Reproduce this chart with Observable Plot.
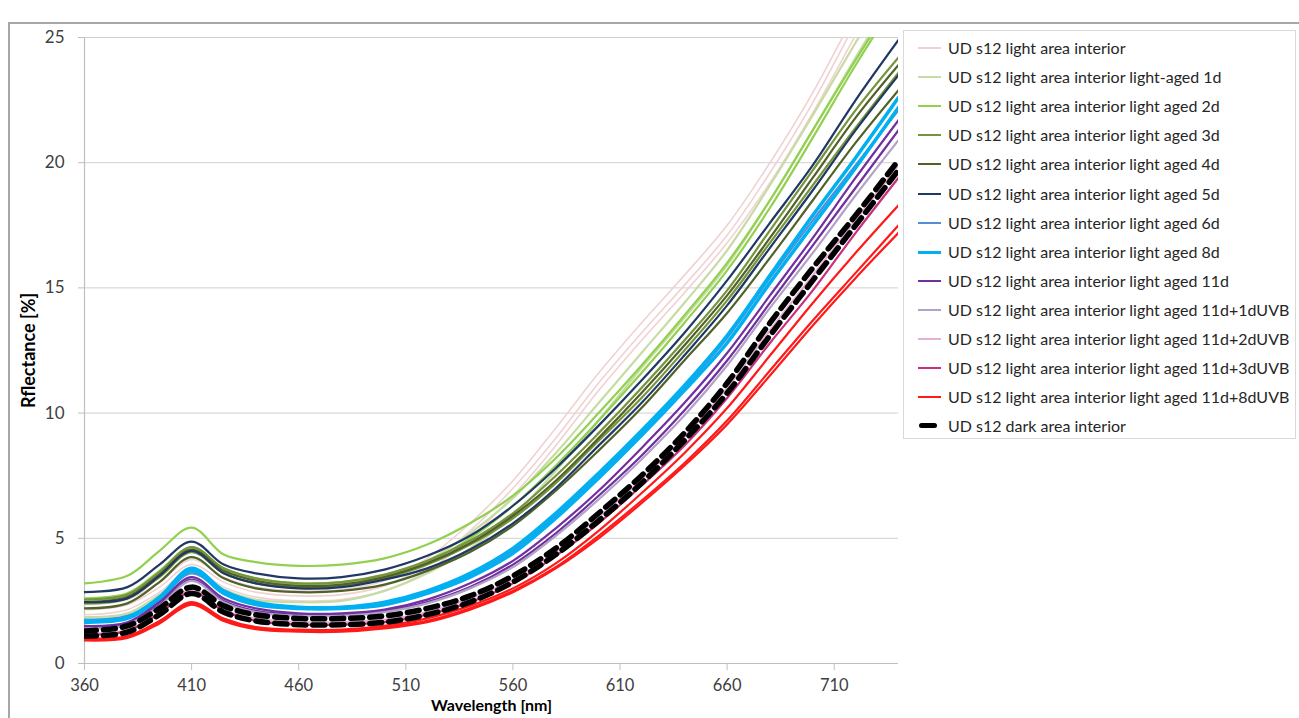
<!DOCTYPE html>
<html>
<head>
<meta charset="utf-8">
<script src="https://cdn.jsdelivr.net/npm/d3@7"></script>
<script src="https://cdn.jsdelivr.net/npm/@observablehq/plot@0.6"></script>
<style>
  html, body { margin: 0; padding: 0; background: #fff; overflow: hidden; }
  #wrap { position: relative; width: 1299px; height: 718px; overflow: hidden; font-family: Lato, "Open Sans", sans-serif; }
  #frame { position: absolute; left: 8px; top: 22px; width: 1400px; height: 800px; border-top: 2px solid #a6a6a6; border-left: 2px solid #a6a6a6; }
  #chart { position: absolute; left: 0; top: 0; }
  #legend { position: absolute; left: 903px; top: 30px; width: 393px; height: 409px; border: 1px solid #d9d9d9; background: #fff; box-sizing: border-box; }
  .item { position: absolute; left: 0; height: 20px; width: 390px; }
  .sw { position: absolute; left: 14px; top: 9px; width: 23px; height: 0; }
  .lab { position: absolute; left: 44px; top: 0; font-size: 16px; line-height: 20px; color: #262626; white-space: nowrap; }
</style>
</head>
<body>
<div id="wrap">
  <div id="frame"></div>
  <div id="chart"></div>
  <div id="legend"></div>
</div>
<script>
// ---- data ----
const wavelengths = [360, 380, 395, 410, 425, 440, 460, 480, 500, 520, 540, 560, 580, 600, 620, 640, 660, 680, 700, 720, 740];
const xTicks = [360, 410, 460, 510, 560, 610, 660, 710];
const yTicks = [0, 5, 10, 15, 20, 25];

const seriesNames = [
  "UD s12 light area interior",
  "UD s12 light area interior light-aged 1d",
  "UD s12 light area interior light aged 2d",
  "UD s12 light area interior light aged 3d",
  "UD s12 light area interior light aged 4d",
  "UD s12 light area interior light aged 5d",
  "UD s12 light area interior light aged 6d",
  "UD s12 light area interior light aged 8d",
  "UD s12 light area interior light aged 11d",
  "UD s12 light area interior light aged 11d+1dUVB",
  "UD s12 light area interior light aged 11d+2dUVB",
  "UD s12 light area interior light aged 11d+3dUVB",
  "UD s12 light area interior light aged 11d+8dUVB",
  "UD s12 dark area interior"
];
const seriesColors = ["#efd2d1", "#c6dca4", "#92d050", "#77933c", "#4f6228", "#1f3864", "#558ed5", "#00b0f0", "#7030a0", "#b3a2c7", "#e6b0d6", "#c8307f", "#ff1a1a", "#000000"];

// reflectance [%] per measurement, at the wavelengths above
const light_a  = [2.35, 2.55, 3.25, 4.15, 3.45, 3.05, 2.9, 2.95, 3.3, 4.2, 5.6, 7.3, 9.4, 11.6, 13.6, 15.5, 17.5, 20.0, 22.8, 26.0, 29.2];
const light_b  = [2.15, 2.35, 3.05, 3.95, 3.25, 2.85, 2.7, 2.75, 3.1, 3.95, 5.3, 7.0, 9.0, 11.2, 13.2, 15.1, 17.1, 19.6, 22.4, 25.6, 28.8];
const light_c  = [1.95, 2.15, 2.85, 3.75, 3.05, 2.65, 2.5, 2.55, 2.9, 3.7, 5.0, 6.7, 8.7, 10.9, 12.9, 14.8, 16.8, 19.2, 22.0, 25.1, 28.2];
const aged1_a  = [2.5, 2.7, 3.6, 4.6, 3.75, 3.3, 3.15, 3.2, 3.45, 4.1, 5.2, 6.6, 8.4, 10.4, 12.4, 14.4, 16.5, 19.1, 21.9, 24.8, 27.6];
const aged1_b  = [1.85, 2.0, 2.75, 3.65, 2.95, 2.55, 2.45, 2.5, 2.9, 3.6, 4.6, 5.9, 7.7, 9.7, 11.8, 13.8, 15.9, 18.5, 21.3, 24.2, 27.0];
const aged2_a  = [3.2, 3.5, 4.5, 5.43, 4.35, 4.05, 3.9, 3.95, 4.2, 4.75, 5.6, 6.7, 8.2, 10.0, 11.9, 13.9, 16.0, 18.5, 21.3, 24.1, 26.8];
const aged2_b  = [2.6, 2.8, 3.7, 4.65, 3.8, 3.4, 3.2, 3.25, 3.5, 4.05, 5.0, 6.3, 7.9, 9.7, 11.6, 13.6, 15.7, 18.2, 21.0, 23.9, 26.6];
const aged3_a  = [2.55, 2.75, 3.65, 4.65, 3.8, 3.4, 3.2, 3.25, 3.55, 4.1, 4.9, 6.0, 7.5, 9.2, 11.0, 12.9, 14.9, 17.3, 19.7, 22.1, 24.2];
const aged3_b  = [2.4, 2.6, 3.45, 4.45, 3.6, 3.2, 3.05, 3.1, 3.4, 3.95, 4.75, 5.8, 7.2, 8.9, 10.6, 12.5, 14.5, 16.8, 19.1, 21.4, 23.6];
const aged4_a  = [2.45, 2.65, 3.55, 4.55, 3.7, 3.3, 3.1, 3.15, 3.45, 4.0, 4.8, 5.9, 7.3, 9.0, 10.8, 12.7, 14.7, 17.0, 19.4, 21.8, 23.9];
const aged4_b  = [2.2, 2.4, 3.25, 4.25, 3.4, 3.0, 2.85, 2.9, 3.15, 3.7, 4.45, 5.5, 6.9, 8.5, 10.2, 12.1, 14.0, 16.2, 18.5, 20.8, 22.9];
const aged5_a  = [2.85, 3.05, 3.95, 4.87, 3.95, 3.6, 3.4, 3.45, 3.75, 4.3, 5.1, 6.3, 7.8, 9.5, 11.3, 13.2, 15.3, 17.6, 19.9, 22.5, 24.9];
const aged5_b  = [2.45, 2.6, 3.5, 4.5, 3.6, 3.2, 3.0, 3.05, 3.35, 3.8, 4.55, 5.6, 7.0, 8.7, 10.4, 12.3, 14.3, 16.6, 18.9, 21.3, 23.5];
const aged6_a  = [1.75, 1.9, 2.6, 3.6, 2.85, 2.4, 2.25, 2.25, 2.4, 2.8, 3.5, 4.5, 5.9, 7.5, 9.2, 11.0, 13.0, 15.4, 17.7, 19.9, 22.1];
const aged8_a  = [1.7, 1.85, 2.65, 3.8, 2.9, 2.45, 2.25, 2.25, 2.45, 2.9, 3.6, 4.6, 6.0, 7.6, 9.3, 11.1, 13.1, 15.5, 17.9, 20.2, 22.6];
const aged8_b  = [1.65, 1.8, 2.55, 3.7, 2.8, 2.35, 2.2, 2.2, 2.35, 2.8, 3.45, 4.4, 5.8, 7.4, 9.1, 10.9, 12.8, 15.2, 17.5, 19.8, 22.2];
const aged11_a = [1.5, 1.65, 2.45, 3.45, 2.6, 2.2, 2.0, 2.0, 2.15, 2.55, 3.2, 4.1, 5.4, 6.9, 8.6, 10.4, 12.4, 14.7, 17.0, 19.4, 21.7];
const aged11_b = [1.45, 1.6, 2.35, 3.35, 2.5, 2.1, 1.95, 1.95, 2.1, 2.45, 3.05, 3.95, 5.2, 6.7, 8.3, 10.1, 12.1, 14.4, 16.7, 19.0, 21.3];
const uvb1_a   = [1.4, 1.55, 2.3, 3.3, 2.45, 2.05, 1.9, 1.9, 2.05, 2.4, 3.0, 3.85, 5.1, 6.55, 8.15, 9.9, 11.9, 14.2, 16.4, 18.7, 20.9];
const uvb2_a   = [1.2, 1.35, 2.05, 2.95, 2.15, 1.8, 1.65, 1.65, 1.75, 2.05, 2.6, 3.35, 4.45, 5.85, 7.35, 9.05, 11.0, 13.3, 15.5, 17.7, 19.9];
const uvb3_a   = [1.15, 1.3, 2.0, 2.85, 2.1, 1.7, 1.55, 1.55, 1.65, 1.95, 2.45, 3.2, 4.3, 5.6, 7.1, 8.7, 10.6, 12.8, 14.9, 17.2, 19.4];
const uvb8_a   = [1.0, 1.1, 1.7, 2.45, 1.8, 1.45, 1.35, 1.35, 1.5, 1.8, 2.3, 3.0, 4.0, 5.3, 6.8, 8.4, 10.2, 12.3, 14.4, 16.4, 18.3];
const uvb8_b   = [0.95, 1.05, 1.65, 2.4, 1.75, 1.4, 1.3, 1.3, 1.45, 1.7, 2.2, 2.9, 3.85, 5.1, 6.5, 8.0, 9.7, 11.7, 13.7, 15.6, 17.5];
const uvb8_c   = [0.92, 1.02, 1.6, 2.35, 1.7, 1.37, 1.27, 1.27, 1.4, 1.65, 2.15, 2.85, 3.8, 5.0, 6.4, 7.9, 9.55, 11.5, 13.5, 15.4, 17.2];
const dark_a   = [1.3, 1.5, 2.2, 3.05, 2.3, 1.95, 1.8, 1.8, 1.9, 2.2, 2.7, 3.5, 4.6, 6.0, 7.5, 9.2, 11.2, 13.6, 15.8, 17.9, 20.1];
const dark_b   = [1.1, 1.25, 1.95, 2.8, 2.05, 1.7, 1.55, 1.55, 1.65, 1.95, 2.45, 3.25, 4.35, 5.7, 7.2, 8.9, 10.8, 13.1, 15.3, 17.5, 19.7];

// which series each measurement belongs to (drawing order = legend order)
const measurements = [
  [0, light_a], [0, light_b], [0, light_c],
  [1, aged1_a], [1, aged1_b],
  [2, aged2_a], [2, aged2_b],
  [3, aged3_a], [3, aged3_b],
  [4, aged4_a], [4, aged4_b],
  [5, aged5_a], [5, aged5_b],
  [6, aged6_a],
  [7, aged8_a], [7, aged8_b],
  [8, aged11_a], [8, aged11_b],
  [9, uvb1_a],
  [10, uvb2_a],
  [11, uvb3_a],
  [12, uvb8_a], [12, uvb8_b], [12, uvb8_c],
  [13, dark_a], [13, dark_b]
];

// ---- style ----
const widthOf = s => s === 13 ? 5.5 : s === 7 ? 3.5 : s === 0 ? 1.6 : 2.2;

const lineMarks = measurements.map(([s, vals]) =>
  Plot.line(wavelengths.map((w, i) => ({w, r: vals[i]})), {
    x: "w", y: "r",
    stroke: seriesColors[s],
    strokeWidth: widthOf(s),
    strokeDasharray: s === 13 ? "12,7" : null,
    curve: "catmull-rom",
    clip: true
  })
);

const chart = Plot.plot({
  width: 1299,
  height: 718,
  marginLeft: 84,
  marginRight: 401,
  marginTop: 37,
  marginBottom: 55,
  style: {fontFamily: "Lato, 'Open Sans', sans-serif", background: "transparent", overflow: "visible"},
  x: {domain: [360, 740]},
  y: {domain: [0, 25]},
  marks: [
    Plot.gridY(yTicks, {stroke: "#d0d0d0", strokeOpacity: 1, strokeWidth: 1}),
    Plot.ruleX([360], {stroke: "#bfbfbf", strokeWidth: 1.2}),
    Plot.ruleY([0], {stroke: "#bfbfbf", strokeWidth: 1.2}),
    Plot.axisY(yTicks, {tickSize: 6, tickPadding: 14, stroke: "#bfbfbf", fill: "#404040", fontSize: 17, label: null}),
    Plot.axisX(xTicks, {tickSize: 7, tickPadding: 9, stroke: "#bfbfbf", fill: "#404040", fontSize: 16.5, label: null}),
    Plot.text(["Wavelength [nm]"], {frameAnchor: "bottom", dy: 47, textAnchor: "middle", fontWeight: "bold", fontSize: 16, fill: "#000"}),
    Plot.text(["Rflectance [%]"], {frameAnchor: "left", dx: -55, textAnchor: "middle", rotate: -90, fontWeight: "bold", fontSize: 18, fill: "#000"}),
    ...lineMarks
  ]
});
document.getElementById("chart").appendChild(chart);

// ---- legend ----
const legend = d3.select("#legend");
seriesNames.forEach((name, i) => {
  const it = legend.append("div").attr("class", "item").style("top", (7 + i * 29.1) + "px");
  const sw = it.append("div").attr("class", "sw");
  if (i === 13) {
    sw.style("left", "15px").style("width", "18px").style("top", "7px").style("height", "5px")
      .style("background", "#000").style("border-radius", "2.5px");
  } else {
    sw.style("border-top", `${i === 7 ? 3 : 2}px solid ${seriesColors[i]}`);
  }
  it.append("div").attr("class", "lab").text(name);
});
</script>
</body>
</html>
